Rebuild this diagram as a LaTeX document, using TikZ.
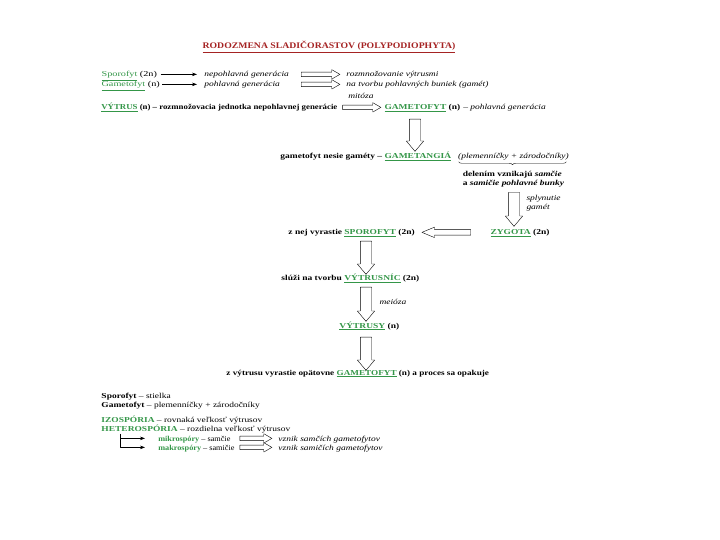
\documentclass[tikz,border=0pt]{standalone}
\usepackage{fontspec}
\setmainfont{Liberation Serif}
\usetikzlibrary{arrows.meta,positioning,calc,shapes.arrows,decorations.pathreplacing}

\definecolor{sporogreen}{RGB}{52,150,72}
\definecolor{titlered}{RGB}{165,35,35}

\newcommand\gr[1]{\textcolor{sporogreen}{\underline{#1}}}
\newcommand\grb[1]{\textcolor{sporogreen}{\textbf{#1}}}

% hollow block arrow from one point to another
\newcommand\hollowarrow[3][]{%
  \path let \p1=(#2), \p2=(#3),
    \n1={veclen(\x2-\x1,\y2-\y1)}, \n2={atan2(\y2-\y1,\x2-\x1)} in
    node[hollow, #1, minimum height=\n1, rotate=\n2] at ($(\p1)!0.5!(\p2)$) {};}

\begin{document}
\begin{tikzpicture}[
    x=1bp, y=-1bp,
    font=\fontsize{7.6}{9}\selectfont,
    line join=round,
    % text is set a bit wide; an extra xscale on a node multiplies this one
    txt/.style={inner sep=1pt, text height=1.5ex, text depth=.35ex, anchor=base west, xscale=1.25},
    txtb/.style={txt, font=\fontsize{7.6}{9}\selectfont\bfseries},
    itx/.style={txt, font=\fontsize{7.6}{9}\selectfont\itshape},
    thinarrow/.style={-{Stealth[length=5bp,width=3.5bp]}, thin},
    hollow/.style={single arrow, draw, thin, inner xsep=0pt, outer sep=0pt},
    smallarrow/.style={hollow, inner ysep=2bp, single arrow head extend=2.5bp,
        single arrow tip angle=60},
    midarrow/.style={hollow, inner ysep=2.5bp, single arrow head extend=2.5bp,
        single arrow tip angle=45},
    bigarrow/.style={hollow, inner ysep=5.5bp, single arrow head extend=3bp,
        single arrow tip angle=80},
    brace/.style={decorate, decoration={brace, mirror, amplitude=3bp}, thin}
]
\useasboundingbox (0,0) rectangle (720,540);

% =========================
% Title and generations
% =========================
\node[anchor=base, inner sep=1pt, xscale=1.135, font=\fontsize{8.6}{10}\selectfont\bfseries] (title)
    at (329,49) {\textcolor{titlered}{\underline{RODOZMENA SLADIČORASTOV (POLYPODIOPHYTA)}}};

\node[txt, xscale=1.08] (sporo) at (100,77) {\gr{Sporofyt} (2n)};
\node[itx] (nepohl) at (203,77) {nepohlavná generácia};
\node[itx] (rozmn) at (345,77) {rozmnožovanie výtrusmi};

\node[txt, xscale=1.08] (gameto) at (100,87) {\gr{Gametofyt} (n)};
\node[itx] (pohl) at (203,87) {pohlavná generácia};
\node[itx] (tvorba) at (345,87) {na tvorbu pohlavných buniek (gamét)};

\draw[thinarrow, shorten <=2bp, shorten >=6bp] (sporo.east) -- (nepohl.west);
\draw[thinarrow, shorten <=1bp, shorten >=6bp] (gameto.east) -- (pohl.west);
\hollowarrow[smallarrow]{$(nepohl.east)+(9,0)$}{$(rozmn.west)+(-7,0)$}
\hollowarrow[smallarrow]{$(nepohl.east |- pohl.east)+(9,0)$}{$(tvorba.west)+(-7,0)$}

% =========================
% Life cycle
% =========================
\node[txtb, xscale=0.93] (vytrus) at (100,110) {\gr{VÝTRUS} (n) -- rozmnožovacia jednotka nepohlavnej generácie};
\node[txtb] (gamw) at (383,110) {\gr{GAMETOFYT} (n)};
\node[itx, anchor=base west] (gamdesc) at (gamw.base east) {-- pohlavná generácia};
\hollowarrow[smallarrow]{$(vytrus.east)+(2,0)$}{$(gamw.west)+(-4,0)$}
\node[itx, anchor=base] (mitoza) at ($(vytrus.east)!0.5!(gamw.west)+(0,-9)$) {mitóza};

\node[txtb] (gtg) at (279,159) {gametofyt nesie gaméty -- \gr{GAMETANGIÁ}};
\node[itx, anchor=base west] (gtgpar) at ($(gtg.base east)+(4,0)$) {(plemenníčky + zárodočníky)};
\draw[brace] ($(gtgpar.south west)+(2,0)$) -- ($(gtgpar.south east)+(-4,0)$);

\node[font=\fontsize{7.6}{9}\selectfont\bfseries, align=left, inner sep=1pt, xscale=1.25,
    below=8bp of gtgpar] (del) {delením vznikajú \textit{samčie}\\a \textit{samičie pohlavné bunky}};

\node[txtb] (zyg) at (489,235) {\gr{ZYGOTA} (2n)};
\node[txtb] (spo) at (287,235) {z nej vyrastie \gr{SPOROFYT} (2n)};
\node[txtb] (vtn) at (280,281) {slúži na tvorbu \gr{VÝTRUSNÍC} (2n)};
\node[txtb] (vts) at (338,328) {\gr{VÝTRUSY} (n)};
\node[txtb, xscale=0.97] (fin) at (225,375) {z výtrusu vyrastie opätovne \gr{GAMETOFYT} (n) a proces sa opakuje};

\coordinate (c1) at (415,0);
\coordinate (c2) at (514,0);
\coordinate (c3) at (366,0);

\hollowarrow[bigarrow]{$(c1 |- gamw.south)+(0,3)$}{$(c1 |- gtg.north)+(0,-3)$}
\hollowarrow[bigarrow]{$(c2 |- del.south)+(0,1)$}{$(c2 |- zyg.north)+(0,-4)$}
\node[itx, align=left, anchor=west, text height=, text depth=] (splyn)
    at ($(c2 |- del.south)+(11,15)$) {splynutie\\gamét};
\hollowarrow[midarrow]{$(zyg.west)+(-15,0)$}{$(spo.east)+(9,0)$}
\hollowarrow[bigarrow]{$(c3 |- spo.south)$}{$(c3 |- vtn.north)+(0,-2)$}
\hollowarrow[bigarrow]{$(c3 |- vtn.south)$}{$(c3 |- vts.north)+(0,-2)$}
\node[itx, anchor=base west] (meioza) at (378,304) {meióza};
\hollowarrow[bigarrow]{$(c3 |- vts.south)+(0,3)$}{$(c3 |- fin.north)$}

% =========================
% Notes
% =========================
\node[txt] (defs) at (100,398) {\textbf{Sporofyt} -- stielka};
\node[txt] (defg) at (100,407) {\textbf{Gametofyt} -- plemenníčky + zárodočníky};

\node[txt] (izo) at (100,422) {\grb{IZOSPÓRIA} -- rovnaká veľkosť výtrusov};
\node[txt] (het) at (100,431) {\grb{HETEROSPÓRIA} -- rozdielna veľkosť výtrusov};
\node[txt, xscale=0.87] (mik) at (157,441) {\grb{mikrospóry} -- samčie};
\node[itx] (mikv) at (277,441) {vznik samčích gametofytov};
\node[txt, xscale=0.87] (mak) at (157,450) {\grb{makrospóry} -- samičie};
\node[itx] (makv) at (277,450) {vznik samičích gametofytov};

\coordinate (split) at ($(het.south west)+(20,0)$);
\draw[thinarrow, shorten >=12bp] (split) |- (mik.west);
\draw[thinarrow, shorten >=12bp] (split) |- (mak.west);
\hollowarrow[smallarrow]{$(mikv.west)+(-39,0)$}{$(mikv.west)+(-7,0)$}
\hollowarrow[smallarrow]{$(makv.west)+(-39,0)$}{$(makv.west)+(-7,0)$}

\end{tikzpicture}
\end{document}
